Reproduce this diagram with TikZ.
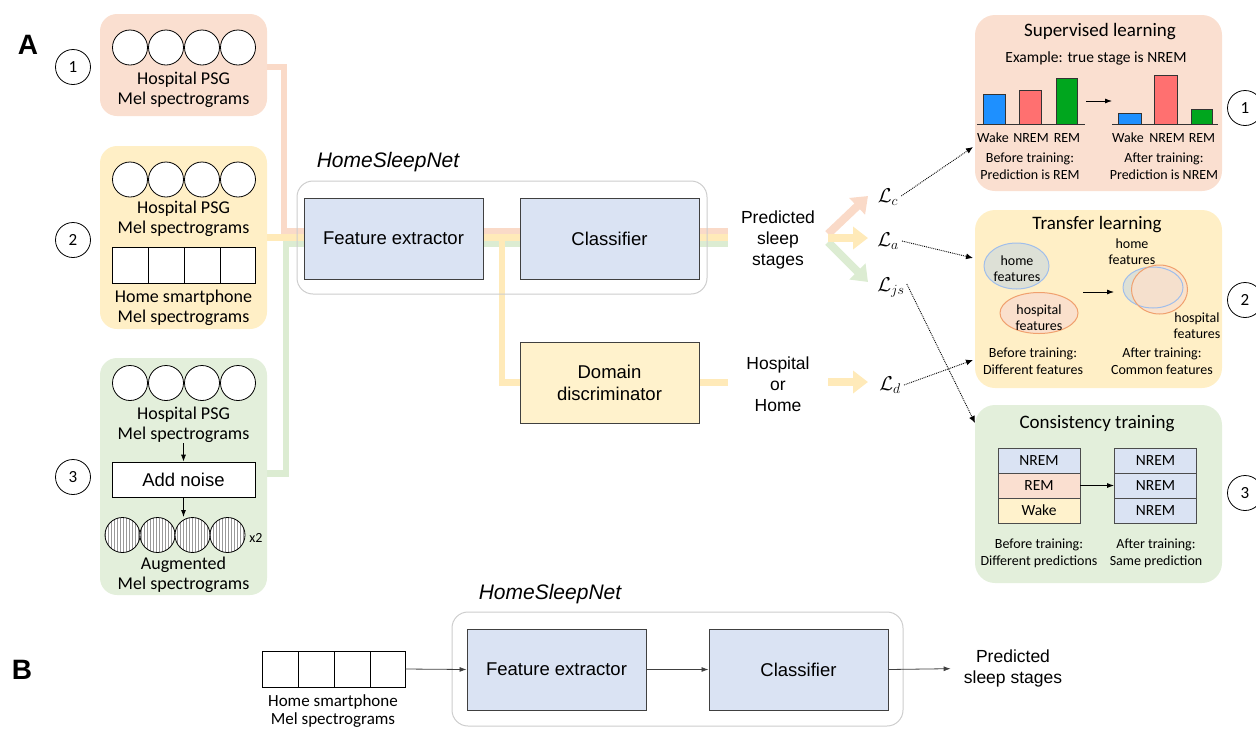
\RequirePackage{fix-cm}
\documentclass[tikz,border=0pt]{standalone}
\usepackage{fontspec}
\setmainfont{Carlito}
\newfontfamily\arialf{Liberation Sans}
\usetikzlibrary{patterns,arrows.meta,backgrounds,shapes.geometric}
\definecolor{salbg}{RGB}{250,223,208}
\definecolor{yelbg}{RGB}{255,239,198}
\definecolor{grnbg}{RGB}{227,239,219}
\definecolor{netfill}{RGB}{218,227,243}
\definecolor{domfill}{RGB}{255,242,204}
\definecolor{salline}{RGB}{250,218,200}
\definecolor{yelline}{RGB}{255,234,185}
\definecolor{grnline}{RGB}{220,236,210}
\definecolor{barblue}{RGB}{30,144,255}
\definecolor{barpink}{RGB}{255,112,112}
\definecolor{bargreen}{RGB}{0,166,30}
\definecolor{outlinegray}{RGB}{205,205,205}
\definecolor{homefill}{RGB}{221,224,214}
\definecolor{homeedge}{RGB}{160,190,235}
\definecolor{hospfill}{RGB}{250,224,204}
\definecolor{hospedge}{RGB}{240,160,110}
\begin{document}
\begin{tikzpicture}[x=1pt,y=-1pt,
  panel/.style={rounded corners=17pt, inner sep=0pt},
  rpanel/.style={rounded corners=20pt, inner sep=0pt, minimum width=247pt},
  netbox/.style={draw=black!75, fill=netfill, line width=0.9pt, minimum width=179pt, minimum height=81pt, inner sep=0pt, font=\arialf\fontsize{18.5}{22}\selectfont, align=center},
  numc/.style={circle, draw, line width=0.8pt, minimum size=35pt, inner sep=0pt, font=\fontsize{17}{19}\selectfont},
  lbl/.style={font=\fontsize{18}{20}\selectfont, align=center, inner sep=0pt},
  smalltxt/.style={font=\fontsize{14}{16.5}\selectfont, align=center, inner sep=0pt},
  titletxt/.style={font=\fontsize{19}{22}\selectfont, inner sep=0pt},
  armtxt/.style={font=\arialf\fontsize{17.5}{21}\selectfont, align=center, inner sep=0pt},
  hsnlabel/.style={font=\arialf\itshape\fontsize{21}{24}\selectfont, inner sep=0pt},
  losstxt/.style={font=\fontsize{20}{22}\selectfont, inner sep=1pt},
  flow/.style={line width=6.5pt},
  bigarr/.style={line width=8pt, -{Triangle[width=22pt,length=15pt]}},
  dotarr/.style={densely dotted, line width=0.9pt, -{Latex[length=7pt,width=6pt]}},
  thinarr/.style={line width=0.8pt, -{Latex[length=7pt,width=5pt]}},
  spec/.style={draw, fill=white, line width=0.8pt},
  cell/.style={draw=black!70, line width=0.8pt, minimum width=82pt, minimum height=25pt, inner sep=0pt, font=\fontsize{15.5}{17}\selectfont},
  bar/.style={draw=black!80, line width=0.8pt},
]
\useasboundingbox (0,0) rectangle (1256,729);

% ---------- labels A / B ----------
\node[font=\arialf\bfseries\fontsize{28}{30}\selectfont] (labA) at (28,45) {A};
\node[font=\arialf\bfseries\fontsize{28}{30}\selectfont] (labB) at (22,670) {B};

% ---------- left panels ----------
\node[panel, fill=salbg, minimum width=167pt, minimum height=102pt] (p1) at (183.5,65) {};
\node[panel, fill=yelbg, minimum width=167pt, minimum height=183pt] (p2) at (183.5,237.5) {};
\node[panel, fill=grnbg, minimum width=167pt, minimum height=237pt] (p3) at (183.5,476.5) {};

\foreach \x in {130,166,202,238} {
  \draw[spec] (\x,47.5) circle[radius=17.5pt];
  \draw[spec] (\x,179.5) circle[radius=17.5pt];
  \draw[spec] (\x,383) circle[radius=17.5pt];
}
\node[lbl] (t1) at (183.5,90) {Hospital PSG\\Mel spectrograms};
\node[lbl] (t2a) at (183.5,218.5) {Hospital PSG\\Mel spectrograms};
\node[draw, line width=0.8pt, fill=white, minimum width=143pt, minimum height=36pt, inner sep=0pt] (spec2) at (183.5,265) {};
\foreach \x in {148,184,220} \draw[line width=0.8pt] (\x,247) -- (\x,283);
\node[lbl] (t2b) at (183.5,308) {Home smartphone\\Mel spectrograms};

\node[lbl] (t3a) at (183.5,425) {Hospital PSG\\Mel spectrograms};
\node[draw, fill=white, line width=0.8pt, minimum width=143pt, minimum height=35pt, inner sep=0pt, font=\arialf\fontsize{18.5}{22}\selectfont] (noise) at (183.5,479.5) {Add noise};
\coordinate (augtop) at (183.5,517);
\draw[thinarr] (t3a.south) -- (noise.north);
\draw[thinarr] (noise.south) -- (augtop);
\foreach \x in {122.5,157.5,192.5,227.5} {
  \fill[white] (\x,535) circle[radius=17.5pt];
  \fill[pattern=vertical lines, pattern color=black!40] (\x,535) circle[radius=17.5pt];
  \draw[line width=0.8pt] (\x,535) circle[radius=17.5pt];
}
\node[font=\fontsize{14}{16}\selectfont, inner sep=0pt] (x2) at (256,538) {x2};
\node[lbl] (t3b) at (183.5,575) {Augmented\\Mel spectrograms};

\node[numc] (n1) at (73,67) {1};
\node[numc] (n2) at (73,240) {2};
\node[numc] (n3) at (73,477) {3};

% ---------- network A ----------
\node[draw=outlinegray, rounded corners=16pt, line width=1pt, minimum width=410pt, minimum height=113pt] (hsn) at (502,237.5) {};
\node[hsnlabel] (hsnlbl) at (388,162) {HomeSleepNet};
\node[netbox] (fe) at (393.5,238.5) {Feature extractor};
\node[netbox] (cl) at (609.5,238.5) {Classifier};
\node[netbox, fill=domfill] (dd) at (609.5,382.5) {Domain\\discriminator};

\node[armtxt] (pred) at (778,239.5) {Predicted\\sleep\\stages};
\node[armtxt] (hoh) at (778,384) {Hospital\\or\\Home};

\coordinate (cS) at (728,231);
\coordinate (cY) at (728,237.5);
\coordinate (cG) at (728,244);
\coordinate (yb) at (502,237.5);
\coordinate (cD) at (728,382.5);
\begin{scope}[on background layer]
  \draw[flow, salline] ([yshift=-2pt]p1.east) -| (284,231) -- (cS);
  \draw[flow, grnline] ([yshift=3pt]p3.east) -| (286,244) -- (cG);
  \draw[flow, yelline] (p2.east) -- (cY);
  \draw[flow, yelline] (yb) |- (dd.west);
  \draw[flow, yelline] (dd.east) -- (cD);
\end{scope}

% losses
\node[losstxt] (Lc) at (888,197) {$\mathcal{L}_c$};
\node[losstxt] (La) at (888,241) {$\mathcal{L}_a$};
\node[losstxt] (Ljs) at (891,288) {$\mathcal{L}_{js}$};
\node[losstxt] (Ld) at (890,385) {$\mathcal{L}_d$};

\coordinate (aS) at (828,234);
\coordinate (aY) at (828,238);
\coordinate (aG) at (828,242);
\coordinate (tS) at (868,196);
\coordinate (tY) at (868,238);
\coordinate (tG) at (868,282);
\coordinate (aD) at (828,382);
\coordinate (tD) at (868,382);
\draw[bigarr, salline] (aS) -- (tS);
\draw[bigarr, grnline] (aG) -- (tG);
\draw[bigarr, yelline] (aY) -- (tY);
\draw[bigarr, yelline] (aD) -- (tD);

% ---------- right panels ----------
\node[rpanel, fill=salbg, minimum height=176pt] (sup) at (1098.5,103) {};
\node[rpanel, fill=yelbg, minimum height=178pt] (tra) at (1098.5,299) {};
\node[rpanel, fill=grnbg, minimum height=178pt] (con) at (1098.5,494) {};

\coordinate (dS) at (973,147);
\coordinate (dA) at (973,258);
\coordinate (dJ) at (975,423);
\coordinate (dD) at (973,360);
\draw[dotarr] ([xshift=2pt,yshift=1pt]Lc.east) -- (dS);
\draw[dotarr] ([xshift=2pt]La.east) -- (dA);
\draw[dotarr] ([xshift=1pt,yshift=4pt]Ljs.east) -- (dJ);
\draw[dotarr] ([xshift=2pt]Ld.east) -- (dD);

% supervised
\node[titletxt] (supt) at (1100,32) {Supervised learning};
\node[font=\fontsize{15.5}{17}\selectfont, inner sep=0pt] (supe) at (1096,58) {Example: true stage is NREM};
\draw[bar, fill=barblue] (983,94) rectangle (1005,124);
\draw[bar, fill=barpink] (1019,90) rectangle (1041,124);
\draw[bar, fill=bargreen] (1056,78) rectangle (1077,124);
\draw[line width=0.8pt, black!80] (977,124) -- (1085,124);
\draw[bar, fill=barblue] (1118,113) rectangle (1141,124);
\draw[bar, fill=barpink] (1154,75) rectangle (1177,124);
\draw[bar, fill=bargreen] (1191,109) rectangle (1212,124);
\draw[line width=0.8pt, black!80] (1112,124) -- (1218,124);
\coordinate (sa1) at (1086,101);
\coordinate (sa2) at (1112,101);
\draw[thinarr] (sa1) -- (sa2);
\node[smalltxt] (w1) at (993,138) {Wake};
\node[smalltxt] (nr1) at (1031,138) {NREM};
\node[smalltxt] (r1) at (1067,138) {REM};
\node[smalltxt] (w2) at (1128,138) {Wake};
\node[smalltxt] (nr2) at (1167,138) {NREM};
\node[smalltxt] (r2) at (1202,138) {REM};
\node[smalltxt] (supb) at (1030,166) {Before training:\\Prediction is REM};
\node[smalltxt] (supa) at (1164,166) {After training:\\Prediction is NREM};
\node[numc] (rn1) at (1245,108) {1};

% transfer
\node[titletxt] (trat) at (1097,225) {Transfer learning};
\node[ellipse, draw=homeedge, fill=homefill, line width=1pt, minimum width=65pt, minimum height=46pt, inner sep=0pt] (home1) at (1016.5,266) {};
\node[smalltxt] at (1017,268.5) {home\\features};
\node[ellipse, draw=hospedge, fill=hospfill, line width=1pt, minimum width=78pt, minimum height=41pt, inner sep=0pt] (hosp1) at (1039,313) {};
\node[smalltxt] at (1039,317.5) {hospital\\features};
\coordinate (ta1) at (1083,292);
\coordinate (ta2) at (1114,292);
\draw[thinarr] (ta1) -- (ta2);
\fill[homefill] (1153,287.5) ellipse[x radius=30pt, y radius=20.5pt];
\fill[hospfill, opacity=0.85] (1159.5,289.5) ellipse[x radius=28pt, y radius=24.5pt];
\draw[homeedge, line width=1pt] (1153,287.5) ellipse[x radius=30pt, y radius=20.5pt];
\draw[hospedge, line width=1pt] (1159.5,289.5) ellipse[x radius=28pt, y radius=24.5pt];
\node[smalltxt] (homet2) at (1132,251.5) {home\\features};
\node[smalltxt] (hospt2) at (1197,325.5) {hospital\\features};
\node[smalltxt] (trab) at (1033,361) {Before training:\\Different features};
\node[smalltxt] (traa) at (1162,361) {After training:\\Common features};
\node[numc] (rn2) at (1245,300) {2};

% consistency
\node[titletxt] (cont) at (1097,424) {Consistency training};
\node[cell, fill=netfill] (c1) at (1039,461) {NREM};
\node[cell, fill=salbg] (c2) at (1039,485.5) {REM};
\node[cell, fill=domfill] (c3) at (1039,510.5) {Wake};
\node[cell, fill=netfill] (c4) at (1155.5,461) {NREM};
\node[cell, fill=netfill] (c5) at (1155.5,485.5) {NREM};
\node[cell, fill=netfill] (c6) at (1155.5,510.5) {NREM};
\draw[thinarr] (c2.east) -- (c5.west);
\node[smalltxt] (conb) at (1039,553.5) {Before training:\\Different predictions};
\node[smalltxt] (cona) at (1156,553.5) {After training:\\Same prediction};
\node[numc] (rn3) at (1245,493) {3};

% ---------- panel B ----------
\node[draw=outlinegray, rounded corners=16pt, line width=1pt, minimum width=451pt, minimum height=114pt] (hsnB) at (677.5,669) {};
\node[hsnlabel] (hsnBl) at (550,594) {HomeSleepNet};
\node[draw, line width=0.8pt, fill=white, minimum width=143pt, minimum height=36pt, inner sep=0pt] (specB) at (333.5,669) {};
\foreach \x in {298,334,370} \draw[line width=0.8pt] (\x,651) -- (\x,687);
\node[lbl, font=\fontsize{17}{18.5}\selectfont] (tB) at (333,711) {Home smartphone\\Mel spectrograms};
\node[netbox] (fe2) at (556.5,669.5) {Feature extractor};
\node[netbox] (cl2) at (798.5,669.5) {Classifier};
\node[armtxt] (predB) at (1013,668.5) {Predicted\\sleep stages};
\draw[thinarr, black!75] (specB.east) -- (fe2.west);
\draw[thinarr, black!75] (fe2.east) -- (cl2.west);
\draw[thinarr, black!75, shorten >=13pt] (cl2.east) -- (predB.west);
\end{tikzpicture}
\end{document}
